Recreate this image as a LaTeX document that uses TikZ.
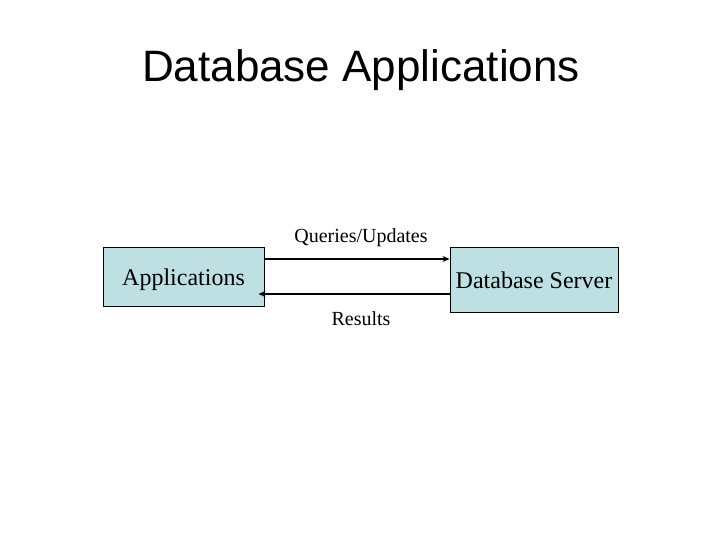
\documentclass[tikz,border=0pt]{standalone}
\usepackage{fontspec}
\setmainfont{Liberation Serif}
\newfontfamily\titlefont{Liberation Sans}
\usetikzlibrary{arrows.meta}
\definecolor{boxblue}{RGB}{190,224,227}
\tikzset{
	box/.style={draw=black, line width=1pt, fill=boxblue, inner sep=0pt, text height=22pt, text depth=5pt, font=\fontsize{24}{28}\selectfont},
	link/.style={line width=1.6pt, -{Stealth[length=7pt,width=6pt]}},
	lbl/.style={font=\fontsize{20}{24}\selectfont}
}
\begin{document}
\begin{tikzpicture}[x=1pt, y=-1pt]
	\useasboundingbox (0,0) rectangle (720,540);

	\node[anchor=base, font=\titlefont\fontsize{44}{52}\selectfont] (title) at (361,82) {Database Applications};

	\node[box, minimum width=161pt, minimum height=59pt] (app) at (183.5,276.5) {Applications};
	\node[box, minimum width=168pt, minimum height=65pt] (db) at (534,279.5) {Database Server};

	\coordinate (q) at (0,259);
	\coordinate (r) at (0,294);

	\draw[link] (app.east |- q) -- (db.west |- q);
	\draw[link, shorten >=-6pt] (db.west |- r) -- (app.east |- r);

	\node[lbl] (queries) at (361,238) {Queries/Updates};
	\node[lbl] (results) at (361,319) {Results};
\end{tikzpicture}
\end{document}
